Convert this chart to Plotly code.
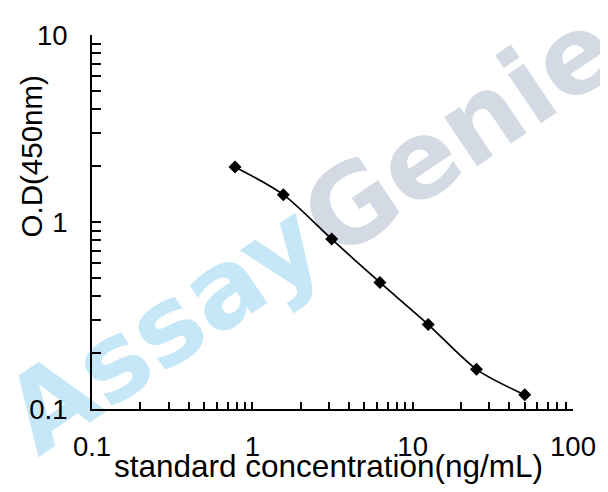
import plotly.graph_objects as go

# Data
concentration = [0.78, 1.56, 3.125, 6.25, 12.5, 25, 50]
od_450 = [1.97, 1.40, 0.81, 0.475, 0.283, 0.163, 0.119]

x_tick_vals = [0.1, 1, 10, 100]
x_tick_text = ["0.1", "1", "10", "100"]
y_tick_vals = [0.1, 1, 10]
y_tick_text = ["0.1", "1", "10"]

x_title = "standard concentration(ng/mL)"
y_title = "O.D(450nm)"
wm_left = "Assay"
wm_right = "Genie"

FONT = "Liberation Sans, Arial, sans-serif"

# The page body adds an 8px margin, so the figure is sized to fill the rest
OFF = 8
W, H = 608 - OFF, 492 - OFF
# plot area in the window's pixels: x 92..576, y 29..409
L, R, T, B = 92 - OFF, 608 - 576, 29 - OFF, 492 - 409
pw, ph = W - L - R, H - T - B


def px2paper(px, py):
    """window pixel -> paper coordinates"""
    return (px - OFF - L) / pw, (H - B - (py - OFF)) / ph


fig = go.Figure()
fig.add_trace(go.Scatter(
    x=concentration, y=od_450, mode="lines+markers",
    line=dict(color="black", width=1.7, shape="spline", smoothing=0.8),
    marker=dict(symbol="diamond", size=10, color="black"),
    showlegend=False, cliponaxis=False,
))

# Watermark, drawn below the data via shape labels
for txt, color, (cx, cy) in [
    (wm_left, "#c6e7f8", (159, 320)),
    (wm_right, "#d3dae3", (457, 122)),
]:
    x0, y0 = px2paper(cx - 5, cy + 5)
    x1, y1 = px2paper(cx + 5, cy - 5)
    fig.add_shape(
        type="rect", xref="paper", yref="paper", x0=x0, x1=x1, y0=y0, y1=y1,
        line=dict(width=0), fillcolor="rgba(0,0,0,0)", layer="below",
        label=dict(text=txt, textangle=-34,
                   font=dict(family="DejaVu Sans, sans-serif",
                             size=108, color=color, weight="bold"),
                   textposition="middle center"),
    )

axis_common = dict(
    type="log", showgrid=False, zeroline=False,
    showline=True, linecolor="black", linewidth=2,
    ticks="inside", tickcolor="black", tickwidth=1.5,
    tickfont=dict(family=FONT, size=27.5, color="black"),
    mirror=False,
)

fig.update_xaxes(
    **axis_common, range=[-1, 2], tickvals=x_tick_vals, ticktext=x_tick_text,
    ticklen=7, ticklabelstandoff=12,
    minor=dict(ticks="inside", ticklen=7, tickwidth=1.5, tickcolor="black",
               dtick="D1", showgrid=False),
)
fig.update_yaxes(
    **axis_common, range=[-1, 1], tickvals=y_tick_vals, ticktext=y_tick_text,
    ticklen=9, ticklabelstandoff=17,
    minor=dict(ticks="inside", ticklen=9, tickwidth=1.5, tickcolor="black",
               dtick="D1", showgrid=False),
)

tx, ty = px2paper(330, 467)
fig.add_annotation(text=x_title, xref="paper", yref="paper", x=tx, y=ty,
                   xanchor="center", yanchor="middle", showarrow=False,
                   font=dict(family=FONT, size=31.5, color="black"))
yx, yy = px2paper(31, 152)
fig.add_annotation(text=y_title, xref="paper", yref="paper", x=yx, y=yy,
                   xanchor="center", yanchor="middle", showarrow=False,
                   textangle=-90,
                   font=dict(family=FONT, size=29.5, color="black"))

fig.update_layout(
    width=W, height=H,
    margin=dict(l=L, r=R, t=T, b=B),
    paper_bgcolor="white", plot_bgcolor="rgba(0,0,0,0)",
    font=dict(family=FONT, color="black"),
)

fig.write_html("out.html")
